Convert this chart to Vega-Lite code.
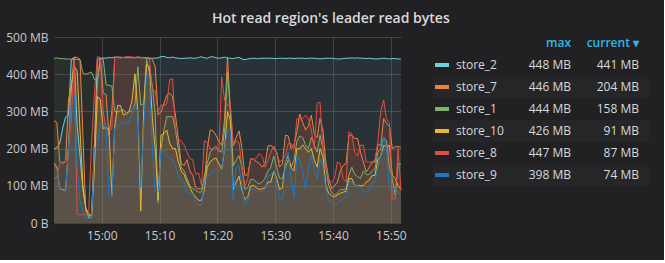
{
  "$schema": "https://vega.github.io/schema/vega-lite/v6.json",
  "background": "#212124",
  "padding": {"left": 5, "top": 12, "right": 8, "bottom": 19},
  "title": {"text": "Hot read region's leader read bytes", "font": "Open Sans", "fontSize": 14, "fontWeight": 600, "color": "#d8d9da", "anchor": "middle", "offset": 5},
  "spacing": 18,
  "bounds": "flush",
  "datasets": {
    "ts": [
      {"t":"2019-06-01T14:51:45","store_2":200,"store_7":275,"store_1":442,"store_10":160,"store_8":120,"store_9":150},
      {"t":"2019-06-01T14:52:15","store_2":202,"store_7":270,"store_1":444,"store_10":150,"store_8":122,"store_9":148},
      {"t":"2019-06-01T14:52:45","store_2":215,"store_7":165,"store_1":442,"store_10":92,"store_8":160,"store_9":92},
      {"t":"2019-06-01T14:53:15","store_2":255,"store_7":160,"store_1":442,"store_10":90,"store_8":165,"store_9":88},
      {"t":"2019-06-01T14:53:45","store_2":285,"store_7":165,"store_1":441,"store_10":88,"store_8":165,"store_9":85},
      {"t":"2019-06-01T14:54:15","store_2":290,"store_7":330,"store_1":441,"store_10":200,"store_8":200,"store_9":200},
      {"t":"2019-06-01T14:54:45","store_2":440,"store_7":370,"store_1":440,"store_10":366,"store_8":280,"store_9":340},
      {"t":"2019-06-01T14:55:15","store_2":445,"store_7":446,"store_1":440,"store_10":420,"store_8":440,"store_9":344},
      {"t":"2019-06-01T14:55:45","store_2":262,"store_7":445,"store_1":440,"store_10":410,"store_8":25,"store_9":150},
      {"t":"2019-06-01T14:56:15","store_2":180,"store_7":440,"store_1":439,"store_10":250,"store_8":22,"store_9":60},
      {"t":"2019-06-01T14:56:45","store_2":90,"store_7":236,"store_1":403,"store_10":100,"store_8":22,"store_9":30},
      {"t":"2019-06-01T14:57:15","store_2":40,"store_7":30,"store_1":400,"store_10":40,"store_8":22,"store_9":15},
      {"t":"2019-06-01T14:57:45","store_2":15,"store_7":20,"store_1":403,"store_10":25,"store_8":30,"store_9":12},
      {"t":"2019-06-01T14:58:15","store_2":15,"store_7":22,"store_1":406,"store_10":20,"store_8":220,"store_9":15},
      {"t":"2019-06-01T14:58:45","store_2":210,"store_7":210,"store_1":385,"store_10":150,"store_8":350,"store_9":200},
      {"t":"2019-06-01T14:59:15","store_2":440,"store_7":380,"store_1":383,"store_10":340,"store_8":447,"store_9":207},
      {"t":"2019-06-01T14:59:45","store_2":442,"store_7":445,"store_1":440,"store_10":333,"store_8":445,"store_9":270},
      {"t":"2019-06-01T15:00:15","store_2":444,"store_7":350,"store_1":442,"store_10":253,"store_8":300,"store_9":265},
      {"t":"2019-06-01T15:00:45","store_2":443,"store_7":345,"store_1":372,"store_10":258,"store_8":250,"store_9":262},
      {"t":"2019-06-01T15:01:15","store_2":445,"store_7":236,"store_1":370,"store_10":250,"store_8":245,"store_9":72},
      {"t":"2019-06-01T15:01:45","store_2":444,"store_7":300,"store_1":368,"store_10":75,"store_8":255,"store_9":70},
      {"t":"2019-06-01T15:02:15","store_2":446,"store_7":445,"store_1":300,"store_10":258,"store_8":445,"store_9":255},
      {"t":"2019-06-01T15:02:45","store_2":445,"store_7":446,"store_1":298,"store_10":316,"store_8":446,"store_9":262},
      {"t":"2019-06-01T15:03:15","store_2":444,"store_7":445,"store_1":302,"store_10":316,"store_8":446,"store_9":266},
      {"t":"2019-06-01T15:03:45","store_2":445,"store_7":445,"store_1":305,"store_10":290,"store_8":445,"store_9":271},
      {"t":"2019-06-01T15:04:15","store_2":446,"store_7":444,"store_1":295,"store_10":293,"store_8":446,"store_9":271},
      {"t":"2019-06-01T15:04:45","store_2":445,"store_7":445,"store_1":300,"store_10":300,"store_8":447,"store_9":268},
      {"t":"2019-06-01T15:05:15","store_2":444,"store_7":445,"store_1":300,"store_10":330,"store_8":446,"store_9":300},
      {"t":"2019-06-01T15:05:45","store_2":445,"store_7":444,"store_1":320,"store_10":401,"store_8":445,"store_9":316},
      {"t":"2019-06-01T15:06:15","store_2":446,"store_7":445,"store_1":420,"store_10":300,"store_8":446,"store_9":300},
      {"t":"2019-06-01T15:06:45","store_2":445,"store_7":444,"store_1":317,"store_10":32,"store_8":445,"store_9":96},
      {"t":"2019-06-01T15:07:15","store_2":444,"store_7":445,"store_1":320,"store_10":300,"store_8":444,"store_9":250},
      {"t":"2019-06-01T15:07:45","store_2":443,"store_7":445,"store_1":440,"store_10":426,"store_8":444,"store_9":398},
      {"t":"2019-06-01T15:08:15","store_2":442,"store_7":444,"store_1":405,"store_10":420,"store_8":440,"store_9":390},
      {"t":"2019-06-01T15:08:45","store_2":443,"store_7":440,"store_1":370,"store_10":282,"store_8":360,"store_9":200},
      {"t":"2019-06-01T15:09:15","store_2":443,"store_7":420,"store_1":290,"store_10":200,"store_8":355,"store_9":83},
      {"t":"2019-06-01T15:09:45","store_2":444,"store_7":291,"store_1":55,"store_10":62,"store_8":300,"store_9":83},
      {"t":"2019-06-01T15:10:15","store_2":447,"store_7":299,"store_1":200,"store_10":236,"store_8":317,"store_9":200},
      {"t":"2019-06-01T15:10:45","store_2":448,"store_7":320,"store_1":250,"store_10":240,"store_8":317,"store_9":195},
      {"t":"2019-06-01T15:11:15","store_2":445,"store_7":344,"store_1":286,"store_10":250,"store_8":320,"store_9":180},
      {"t":"2019-06-01T15:11:45","store_2":444,"store_7":349,"store_1":286,"store_10":215,"store_8":385,"store_9":175},
      {"t":"2019-06-01T15:12:15","store_2":446,"store_7":340,"store_1":286,"store_10":200,"store_8":388,"store_9":170},
      {"t":"2019-06-01T15:12:45","store_2":444,"store_7":290,"store_1":250,"store_10":200,"store_8":250,"store_9":155},
      {"t":"2019-06-01T15:13:15","store_2":443,"store_7":227,"store_1":200,"store_10":164,"store_8":227,"store_9":128},
      {"t":"2019-06-01T15:13:45","store_2":442,"store_7":160,"store_1":150,"store_10":140,"store_8":220,"store_9":115},
      {"t":"2019-06-01T15:14:15","store_2":443,"store_7":155,"store_1":140,"store_10":130,"store_8":210,"store_9":110},
      {"t":"2019-06-01T15:14:45","store_2":443,"store_7":170,"store_1":120,"store_10":110,"store_8":191,"store_9":83},
      {"t":"2019-06-01T15:15:15","store_2":444,"store_7":140,"store_1":100,"store_10":95,"store_8":173,"store_9":80},
      {"t":"2019-06-01T15:15:45","store_2":443,"store_7":128,"store_1":92,"store_10":80,"store_8":170,"store_9":80},
      {"t":"2019-06-01T15:16:15","store_2":443,"store_7":95,"store_1":88,"store_10":70,"store_8":130,"store_9":56},
      {"t":"2019-06-01T15:16:45","store_2":445,"store_7":92,"store_1":83,"store_10":61,"store_8":135,"store_9":47},
      {"t":"2019-06-01T15:17:15","store_2":447,"store_7":92,"store_1":83,"store_10":61,"store_8":101,"store_9":47},
      {"t":"2019-06-01T15:17:45","store_2":444,"store_7":110,"store_1":126,"store_10":90,"store_8":221,"store_9":110},
      {"t":"2019-06-01T15:18:15","store_2":443,"store_7":200,"store_1":160,"store_10":150,"store_8":218,"store_9":126},
      {"t":"2019-06-01T15:18:45","store_2":446,"store_7":250,"store_1":190,"store_10":164,"store_8":200,"store_9":128},
      {"t":"2019-06-01T15:19:15","store_2":447,"store_7":248,"store_1":200,"store_10":171,"store_8":200,"store_9":140},
      {"t":"2019-06-01T15:19:45","store_2":444,"store_7":236,"store_1":205,"store_10":175,"store_8":207,"store_9":145},
      {"t":"2019-06-01T15:20:15","store_2":443,"store_7":220,"store_1":195,"store_10":160,"store_8":190,"store_9":137},
      {"t":"2019-06-01T15:20:45","store_2":444,"store_7":209,"store_1":190,"store_10":145,"store_8":393,"store_9":150},
      {"t":"2019-06-01T15:21:15","store_2":446,"store_7":280,"store_1":250,"store_10":200,"store_8":330,"store_9":200},
      {"t":"2019-06-01T15:21:45","store_2":443,"store_7":446,"store_1":405,"store_10":300,"store_8":316,"store_9":248},
      {"t":"2019-06-01T15:22:15","store_2":443,"store_7":300,"store_1":300,"store_10":277,"store_8":320,"store_9":250},
      {"t":"2019-06-01T15:22:45","store_2":442,"store_7":207,"store_1":153,"store_10":90,"store_8":207,"store_9":59},
      {"t":"2019-06-01T15:23:15","store_2":444,"store_7":230,"store_1":170,"store_10":110,"store_8":221,"store_9":150},
      {"t":"2019-06-01T15:23:45","store_2":445,"store_7":248,"store_1":181,"store_10":126,"store_8":215,"store_9":153},
      {"t":"2019-06-01T15:24:15","store_2":441,"store_7":200,"store_1":150,"store_10":90,"store_8":150,"store_9":100},
      {"t":"2019-06-01T15:24:45","store_2":439,"store_7":128,"store_1":90,"store_10":63,"store_8":99,"store_9":50},
      {"t":"2019-06-01T15:25:15","store_2":441,"store_7":130,"store_1":95,"store_10":70,"store_8":120,"store_9":60},
      {"t":"2019-06-01T15:25:45","store_2":442,"store_7":173,"store_1":117,"store_10":99,"store_8":171,"store_9":90},
      {"t":"2019-06-01T15:26:15","store_2":443,"store_7":171,"store_1":117,"store_10":101,"store_8":171,"store_9":90},
      {"t":"2019-06-01T15:26:45","store_2":442,"store_7":165,"store_1":110,"store_10":95,"store_8":175,"store_9":85},
      {"t":"2019-06-01T15:27:15","store_2":442,"store_7":160,"store_1":105,"store_10":90,"store_8":187,"store_9":83},
      {"t":"2019-06-01T15:27:45","store_2":443,"store_7":150,"store_1":110,"store_10":92,"store_8":180,"store_9":85},
      {"t":"2019-06-01T15:28:15","store_2":443,"store_7":160,"store_1":120,"store_10":95,"store_8":150,"store_9":90},
      {"t":"2019-06-01T15:28:45","store_2":443,"store_7":207,"store_1":140,"store_10":110,"store_8":170,"store_9":126},
      {"t":"2019-06-01T15:29:15","store_2":443,"store_7":209,"store_1":150,"store_10":110,"store_8":190,"store_9":130},
      {"t":"2019-06-01T15:29:45","store_2":442,"store_7":200,"store_1":180,"store_10":140,"store_8":207,"store_9":140},
      {"t":"2019-06-01T15:30:15","store_2":442,"store_7":190,"store_1":150,"store_10":120,"store_8":190,"store_9":110},
      {"t":"2019-06-01T15:30:45","store_2":443,"store_7":150,"store_1":120,"store_10":90,"store_8":164,"store_9":65},
      {"t":"2019-06-01T15:31:15","store_2":443,"store_7":160,"store_1":120,"store_10":95,"store_8":170,"store_9":60},
      {"t":"2019-06-01T15:31:45","store_2":442,"store_7":236,"store_1":150,"store_10":164,"store_8":180,"store_9":164},
      {"t":"2019-06-01T15:32:15","store_2":443,"store_7":234,"store_1":170,"store_10":180,"store_8":214,"store_9":190},
      {"t":"2019-06-01T15:32:45","store_2":443,"store_7":200,"store_1":150,"store_10":150,"store_8":214,"store_9":120},
      {"t":"2019-06-01T15:33:15","store_2":442,"store_7":210,"store_1":170,"store_10":140,"store_8":200,"store_9":65},
      {"t":"2019-06-01T15:33:45","store_2":443,"store_7":245,"store_1":220,"store_10":200,"store_8":280,"store_9":182},
      {"t":"2019-06-01T15:34:15","store_2":443,"store_7":293,"store_1":234,"store_10":200,"store_8":280,"store_9":171},
      {"t":"2019-06-01T15:34:45","store_2":443,"store_7":270,"store_1":230,"store_10":210,"store_8":281,"store_9":140},
      {"t":"2019-06-01T15:35:15","store_2":442,"store_7":250,"store_1":210,"store_10":200,"store_8":290,"store_9":92},
      {"t":"2019-06-01T15:35:45","store_2":443,"store_7":262,"store_1":200,"store_10":190,"store_8":280,"store_9":150},
      {"t":"2019-06-01T15:36:15","store_2":443,"store_7":290,"store_1":230,"store_10":200,"store_8":250,"store_9":182},
      {"t":"2019-06-01T15:36:45","store_2":443,"store_7":240,"store_1":210,"store_10":170,"store_8":200,"store_9":140},
      {"t":"2019-06-01T15:37:15","store_2":442,"store_7":230,"store_1":190,"store_10":150,"store_8":322,"store_9":119},
      {"t":"2019-06-01T15:37:45","store_2":441,"store_7":281,"store_1":236,"store_10":200,"store_8":325,"store_9":173},
      {"t":"2019-06-01T15:38:15","store_2":442,"store_7":250,"store_1":200,"store_10":180,"store_8":200,"store_9":150},
      {"t":"2019-06-01T15:38:45","store_2":443,"store_7":164,"store_1":150,"store_10":101,"store_8":164,"store_9":92},
      {"t":"2019-06-01T15:39:15","store_2":443,"store_7":120,"store_1":100,"store_10":80,"store_8":110,"store_9":60},
      {"t":"2019-06-01T15:39:45","store_2":443,"store_7":92,"store_1":83,"store_10":74,"store_8":110,"store_9":56},
      {"t":"2019-06-01T15:40:15","store_2":442,"store_7":100,"store_1":75,"store_10":70,"store_8":120,"store_9":52},
      {"t":"2019-06-01T15:40:45","store_2":441,"store_7":110,"store_1":80,"store_10":75,"store_8":164,"store_9":52},
      {"t":"2019-06-01T15:41:15","store_2":441,"store_7":140,"store_1":90,"store_10":80,"store_8":160,"store_9":60},
      {"t":"2019-06-01T15:41:45","store_2":442,"store_7":155,"store_1":90,"store_10":83,"store_8":120,"store_9":65},
      {"t":"2019-06-01T15:42:15","store_2":443,"store_7":160,"store_1":92,"store_10":85,"store_8":110,"store_9":70},
      {"t":"2019-06-01T15:42:45","store_2":443,"store_7":236,"store_1":130,"store_10":120,"store_8":245,"store_9":110},
      {"t":"2019-06-01T15:43:15","store_2":444,"store_7":236,"store_1":150,"store_10":119,"store_8":240,"store_9":110},
      {"t":"2019-06-01T15:43:45","store_2":443,"store_7":227,"store_1":130,"store_10":101,"store_8":190,"store_9":101},
      {"t":"2019-06-01T15:44:15","store_2":444,"store_7":227,"store_1":125,"store_10":101,"store_8":180,"store_9":101},
      {"t":"2019-06-01T15:44:45","store_2":443,"store_7":190,"store_1":120,"store_10":100,"store_8":209,"store_9":95},
      {"t":"2019-06-01T15:45:15","store_2":443,"store_7":164,"store_1":140,"store_10":101,"store_8":209,"store_9":83},
      {"t":"2019-06-01T15:45:45","store_2":442,"store_7":137,"store_1":130,"store_10":110,"store_8":164,"store_9":83},
      {"t":"2019-06-01T15:46:15","store_2":443,"store_7":150,"store_1":130,"store_10":115,"store_8":164,"store_9":90},
      {"t":"2019-06-01T15:46:45","store_2":442,"store_7":164,"store_1":140,"store_10":128,"store_8":164,"store_9":110},
      {"t":"2019-06-01T15:47:15","store_2":441,"store_7":164,"store_1":146,"store_10":128,"store_8":170,"store_9":110},
      {"t":"2019-06-01T15:47:45","store_2":441,"store_7":210,"store_1":190,"store_10":170,"store_8":218,"store_9":150},
      {"t":"2019-06-01T15:48:15","store_2":442,"store_7":210,"store_1":200,"store_10":180,"store_8":300,"store_9":180},
      {"t":"2019-06-01T15:48:45","store_2":443,"store_7":281,"store_1":230,"store_10":209,"store_8":331,"store_9":232},
      {"t":"2019-06-01T15:49:15","store_2":442,"store_7":268,"store_1":220,"store_10":205,"store_8":280,"store_9":200},
      {"t":"2019-06-01T15:49:45","store_2":441,"store_7":260,"store_1":150,"store_10":209,"store_8":270,"store_9":92},
      {"t":"2019-06-01T15:50:15","store_2":442,"store_7":200,"store_1":119,"store_10":128,"store_8":65,"store_9":92},
      {"t":"2019-06-01T15:50:45","store_2":442,"store_7":205,"store_1":74,"store_10":120,"store_8":65,"store_9":92},
      {"t":"2019-06-01T15:51:15","store_2":441,"store_7":205,"store_1":160,"store_10":100,"store_8":200,"store_9":80},
      {"t":"2019-06-01T15:51:45","store_2":441,"store_7":204,"store_1":158,"store_10":91,"store_8":87,"store_9":74}
    ],
    "rows": [
      {"rank": 0, "series": "", "max": "max", "current": "current ▾"},
      {"rank": 1, "series": "store_2", "max": "448 MB", "current": "441 MB"},
      {"rank": 2, "series": "store_7", "max": "446 MB", "current": "204 MB"},
      {"rank": 3, "series": "store_1", "max": "444 MB", "current": "158 MB"},
      {"rank": 4, "series": "store_10", "max": "426 MB", "current": "91 MB"},
      {"rank": 5, "series": "store_8", "max": "447 MB", "current": "87 MB"},
      {"rank": 6, "series": "store_9", "max": "398 MB", "current": "74 MB"}
    ]
  },
  "hconcat": [
    {
      "width": 347,
      "height": 186,
      "data": {"name": "ts"},
      "transform": [{"fold": ["store_2", "store_7", "store_1", "store_10", "store_8", "store_9"], "as": ["series", "value"]}],
      "encoding": {
        "x": {"field": "t", "type": "temporal", "scale": {"nice": false},
          "axis": {"title": null, "format": "%H:%M", "grid": true, "labelPadding": 7,
            "values": [
              {"year": 2019, "month": 6, "date": 1, "hours": 15, "minutes": 0},
              {"year": 2019, "month": 6, "date": 1, "hours": 15, "minutes": 10},
              {"year": 2019, "month": 6, "date": 1, "hours": 15, "minutes": 20},
              {"year": 2019, "month": 6, "date": 1, "hours": 15, "minutes": 30},
              {"year": 2019, "month": 6, "date": 1, "hours": 15, "minutes": 40},
              {"year": 2019, "month": 6, "date": 1, "hours": 15, "minutes": 50}
            ]}},
        "y": {"field": "value", "type": "quantitative", "stack": null, "scale": {"domain": [0, 500], "nice": false},
          "axis": {"title": null, "values": [0, 100, 200, 300, 400, 500], "labelExpr": "datum.value == 0 ? '0 B' : datum.value + ' MB'", "grid": true, "labelPadding": 6, "labelOverlap": false}},
        "color": {"field": "series", "type": "nominal",
          "scale": {"domain": ["store_2", "store_7", "store_1", "store_10", "store_8", "store_9"], "range": ["#6ED0E0", "#EF843C", "#7EB26D", "#EAB839", "#E24D42", "#1F78C1"]},
          "legend": null}
      },
      "layer": [
        {"mark": {"type": "area", "opacity": 0.1}, "encoding": {}},
        {"mark": {"type": "line", "strokeWidth": 1}, "encoding": {}}
      ]
    },
    {
      "width": 237,
      "height": 186,
      "data": {"name": "rows"},
      "encoding": {
        "y": {"field": "rank", "type": "quantitative", "scale": {"domain": [-0.2727, 8.1818], "reverse": true, "nice": false, "zero": false}, "axis": null}
      },
      "layer": [
        {
          "transform": [{"filter": "datum.rank > 0 && datum.rank % 2 == 0"}],
          "mark": {"type": "tick", "orient": "horizontal", "size": 216, "thickness": 22, "color": "#262628", "opacity": 1},
          "encoding": {"x": {"datum": 122, "type": "quantitative", "scale": {"domain": [0, 237], "nice": false, "zero": false}, "axis": null}}
        },
        {
          "transform": [{"filter": "datum.rank > 0"}],
          "mark": {"type": "tick", "orient": "horizontal", "size": 14, "thickness": 4, "opacity": 1},
          "encoding": {
            "x": {"datum": 23, "type": "quantitative"},
            "color": {"field": "series", "type": "nominal", "legend": null}
          }
        },
        {
          "transform": [{"filter": "datum.rank > 0"}],
          "mark": {"type": "text", "align": "left", "baseline": "middle", "font": "Open Sans", "fontSize": 12, "color": "#d8d9da"},
          "encoding": {"x": {"datum": 37, "type": "quantitative"}, "text": {"field": "series"}}
        },
        {
          "transform": [{"filter": "datum.rank > 0"}],
          "mark": {"type": "text", "align": "right", "baseline": "middle", "font": "Open Sans", "fontSize": 12, "color": "#d8d9da"},
          "encoding": {"x": {"datum": 152, "type": "quantitative"}, "text": {"field": "max"}}
        },
        {
          "transform": [{"filter": "datum.rank > 0"}],
          "mark": {"type": "text", "align": "right", "baseline": "middle", "font": "Open Sans", "fontSize": 12, "color": "#d8d9da"},
          "encoding": {"x": {"datum": 220, "type": "quantitative"}, "text": {"field": "current"}}
        },
        {
          "transform": [{"filter": "datum.rank == 0"}],
          "mark": {"type": "text", "align": "right", "baseline": "middle", "font": "Open Sans", "fontSize": 12, "fontWeight": 600, "color": "#33B5E5"},
          "encoding": {"x": {"datum": 152, "type": "quantitative"}, "text": {"field": "max"}}
        },
        {
          "transform": [{"filter": "datum.rank == 0"}],
          "mark": {"type": "text", "align": "right", "baseline": "middle", "font": "Open Sans", "fontSize": 12, "fontWeight": 600, "color": "#33B5E5"},
          "encoding": {"x": {"datum": 220, "type": "quantitative"}, "text": {"field": "current"}}
        }
      ]
    }
  ],
  "config": {
    "view": {"stroke": null},
    "axis": {"labelFont": "Open Sans", "labelFontSize": 12, "labelColor": "#c8c9ca", "ticks": false, "domain": false, "gridColor": "#8e8e8e", "gridOpacity": 0.3, "gridWidth": 1}
  }
}
